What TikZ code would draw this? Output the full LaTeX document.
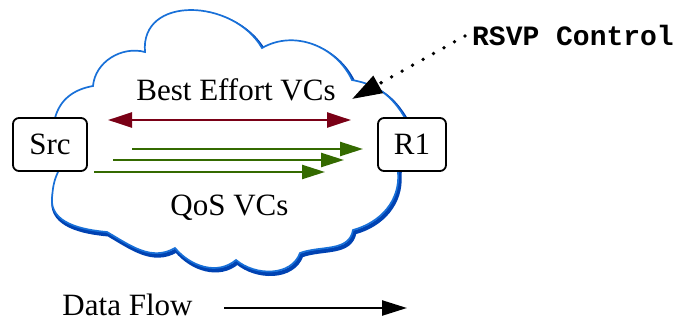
\documentclass[tikz,border=0pt]{standalone}
\usepackage{fontspec}
\setmainfont{Liberation Serif}
\newfontfamily\ctrlfont{Liberation Mono}
\usepackage{xcolor}
\usepackage{tikz}
\usetikzlibrary{positioning, arrows.meta}
\definecolor{bered}{RGB}{122,0,22}
\definecolor{qosgreen}{RGB}{52,106,0}
\definecolor{cloudblue}{RGB}{24,112,216}
\definecolor{cloudshade}{RGB}{0,66,178}

\begin{document}
\begin{tikzpicture}[x=1pt,y=1pt,
    box/.style={draw, fill=white, rounded corners=6pt, line width=1.8pt, minimum height=53pt, inner sep=0pt, font=\fontsize{31}{36}\selectfont},
    lbl/.style={inner sep=0pt, anchor=base, font=\fontsize{31}{36}\selectfont},
    bearrow/.style={draw=bered, line width=2.4pt, {Triangle[length=24pt,width=15pt]}-{Triangle[length=24pt,width=15pt]}},
    qosarrow/.style={draw=qosgreen, fill=qosgreen, line width=2.4pt, -{Triangle[length=23pt,width=14pt]}},
    flowarrow/.style={draw=black, line width=2.4pt, -{Triangle[length=25pt,width=15pt]}},
    ctrlarrow/.style={draw=black, line width=3.8pt, dash pattern=on 0pt off 12pt, line cap=round, -{Triangle[length=30pt,width=19pt]}},
    cloudshadow/.style={draw=cloudshade, line width=4.2pt, shift={(1.4pt,-2.4pt)}},
    cloudline/.style={draw=cloudblue, fill=white, line width=1.7pt}]
    \useasboundingbox (0,0) rectangle (677,-321);

    % Wolke
    \foreach \sty in {cloudshadow, cloudline}
      \draw[\sty] (55,-118) to[out=75,in=190] (93,-86) to[out=85,in=165] (145,-52)
        to[out=95,in=120,looseness=1.25] (262,-48) to[out=30,in=115] (352,-80)
        to[out=-10,in=120] (405,-118) -- (398,-172) to[out=-85,in=15] (353,-230)
        to[out=-100,in=20] (300,-253) to[out=-110,in=-40] (236,-260)
        to[out=-140,in=-50] (175,-248) to[out=-150,in=-30] (107,-232)
        to[out=175,in=-95] (52,-198) to[out=85,in=-115] (58,-172) -- cycle;

    % Router
    \node[box, minimum width=74pt] (src) at (50,-144.5) {Src};
    \node[box, minimum width=68pt] (r1) at (412,-144.5) {R1};

    % VCs
    \coordinate (be-l) at (108,-120);
    \coordinate (be-r) at (351,-120);
    \draw[bearrow] (be-l) -- (be-r);
    \foreach \i/\xa/\xb/\yy in {1/132/363/149, 2/113/344/160, 3/94/325/172} {
      \coordinate (qos\i-s) at (\xa,-\yy);
      \coordinate (qos\i-e) at (\xb,-\yy);
      \draw[qosarrow] (qos\i-s) -- (qos\i-e);
    }
    \node[lbl] (besteffort) at (236,-100) {Best Effort VCs};
    \node[lbl] (qosvcs) at (229.5,-215) {QoS VCs};

    % RSVP
    \node[lbl, font=\ctrlfont\bfseries\fontsize{28}{32}\selectfont] (rsvp) at (573,-46) {RSVP Control};
    \coordinate (ctrl-tip) at (352,-99);
    \draw[ctrlarrow] ([xshift=-7pt]rsvp.west) -- (ctrl-tip);

    % Legende
    \node[lbl] (dataflow) at (127.5,-315) {Data Flow};
    \coordinate (flow-s) at (224,-308);
    \coordinate (flow-e) at (407,-308);
    \draw[flowarrow] (flow-s) -- (flow-e);
  \end{tikzpicture}
\end{document}
